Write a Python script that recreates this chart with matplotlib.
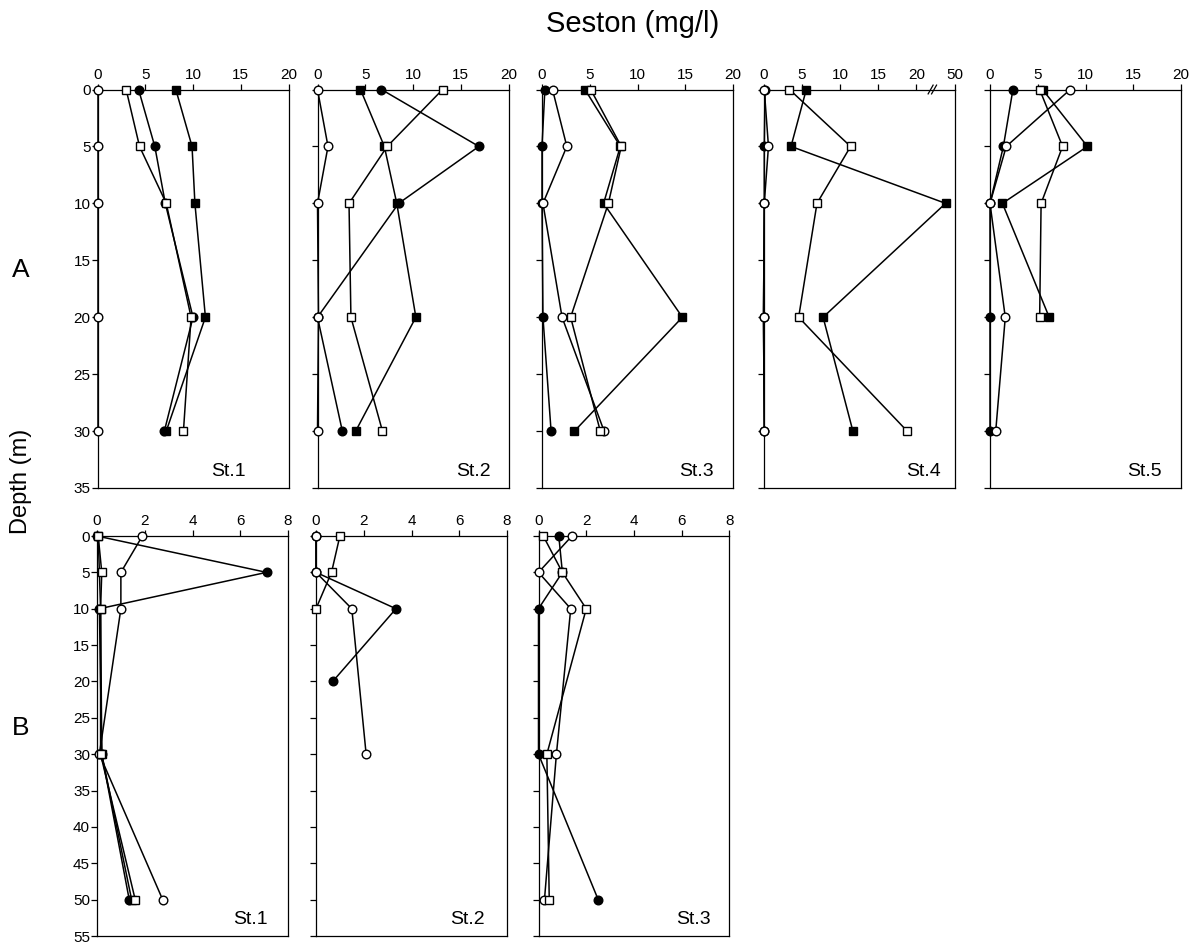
import numpy as np
import matplotlib
matplotlib.use("Agg")
import matplotlib.pyplot as plt

plt.rcParams["font.family"] = ["Liberation Sans", "DejaVu Sans"]

W, H = 1197, 944

DEPTH_A = [0, 5, 10, 20, 30]
DEPTH_B = [0, 5, 10, 20, 30, 50]

# Survey A, seston (mg/l) per station: filled circle, open circle,
# filled square, open square
A1_FC = [4.3, 6.0, 7.1, 10.0, 7.0]
A1_OC = [0.0, 0.0, 0.0, 0.0, 0.0]
A1_FS = [8.2, 9.9, 10.2, 11.3, 7.2]
A1_OS = [3.0, 4.4, 7.2, 9.8, 9.0]

A2_FC = [6.7, 16.9, 8.5, 0.0, 2.6]
A2_OC = [0.0, 1.1, 0.0, 0.1, 0.0]
A2_FS = [4.5, 7.0, 8.3, 10.3, 4.0]
A2_OS = [13.1, 7.3, 3.3, 3.5, 6.8]

A3_FC = [0.3, 0.0, 0.0, 0.1, 0.95]
A3_OC = [1.1, 2.6, 0.1, 2.1, 6.5]
A3_FS = [4.5, 8.2, 6.45, 14.7, 3.4]
A3_OS = [5.1, 8.3, 6.95, 3.0, 6.1]

A4_FC = [0.2, 0.1, 0.1, 0.0, 0.1]
A4_OC = [0.1, 0.65, 0.1, 0.0, 0.1]
A4_FS = [5.6, 3.6, 43.0, 7.8, 11.7]
A4_OS = [3.4, 11.4, 7.0, 4.6, 18.8]

A5_FC = [2.4, 1.4, 0.0, 0.0, 0.0]
A5_OC = [8.4, 1.7, 0.0, 1.6, 0.6]
A5_FS = [5.5, 10.2, 1.3, 6.2, None]
A5_OS = [5.2, 7.6, 5.35, 5.2, None]

# Survey B
B1_FC = [0.0, 7.1, 0.1, None, 0.2, 1.35]
B1_OC = [1.9, 1.0, 1.0, None, 0.1, 2.75]
B1_FS = [0.05, None, 0.15, None, 0.2, 1.45]
B1_OS = [0.05, 0.2, 0.15, None, 0.15, 1.6]

B2_FC = [0.0, 0.0, 3.35, 0.7, None, None]
B2_OC = [0.0, 0.0, 1.5, None, 2.1, None]
B2_FS = [None, None, None, None, None, None]
B2_OS = [1.0, 0.65, 0.0, None, None, None]

B3_FC = [0.85, 1.0, 0.0, None, 0.0, 2.5]
B3_OC = [1.4, 0.0, 1.35, None, 0.75, 0.25]
B3_FS = [None, None, None, None, None, None]
B3_OS = [0.2, 1.0, 2.0, None, 0.35, 0.45]

STATIONS = ["St.1", "St.2", "St.3", "St.4", "St.5"]
XTICKS_A = [0, 5, 10, 15, 20]
XTICKS_A4 = [0, 5, 10, 15, 20, 50]
XTICKS_B = [0, 2, 4, 6, 8]

STYLES = [("o", "black", 6.2), ("o", "white", 6.2),
          ("s", "black", 5.6), ("s", "white", 5.6)]


def px_axes(fig, left, top, width, height):
    return fig.add_axes([left / W, 1 - (top + height) / H, width / W, height / H])


def broken_fwd(x):
    x = np.asarray(x, dtype=float)
    return np.where(x <= 20, x, 20 + (x - 20) / 6.0)


def broken_inv(u):
    u = np.asarray(u, dtype=float)
    return np.where(u <= 20, u, 20 + (u - 20) * 6.0)


def draw_panel(ax, depth, series, xmax, xticks, ymax, label, label_x,
               show_ylabels, broken=False):
    for vals, (mk, face, ms) in zip(series, STYLES):
        d = np.array(depth, dtype=float)
        v = np.array([np.nan if s is None else s for s in vals], dtype=float)
        keep = ~np.isnan(v)
        if not keep.any():
            continue
        ax.plot(v[keep], d[keep], color="black", lw=1.1, marker=mk,
                markersize=ms, markerfacecolor=face, markeredgecolor="black",
                markeredgewidth=1.0, clip_on=False, zorder=3)

    if broken:
        ax.set_xscale("function", functions=(broken_fwd, broken_inv))
    ax.set_xlim(0, xmax)
    ax.set_ylim(ymax, 0)
    ax.set_xticks(xticks)
    ax.set_xticklabels([str(t) for t in xticks])
    ax.set_yticks(np.arange(0, ymax + 1, 5))
    if not show_ylabels:
        ax.set_yticklabels([])

    ax.xaxis.tick_top()
    ax.tick_params(axis="x", direction="out", length=4, width=0.9, pad=1.5,
                   labelsize=11)
    ax.tick_params(axis="y", direction="out", length=4, width=0.9, pad=1.0,
                   labelsize=11)
    for sp in ax.spines.values():
        sp.set_linewidth(0.9)

    ax.text(label_x, 0.02, label, transform=ax.transAxes, ha="right",
            va="bottom", fontsize=14)

    if broken:
        xb = broken_fwd(32.6) / broken_fwd(50)
        for off in (-0.009, 0.009):
            ax.plot([xb + off - 0.013, xb + off + 0.013], [0.989, 1.011],
                    transform=ax.transAxes, color="black", lw=0.9,
                    clip_on=False, zorder=4)


fig = plt.figure(figsize=(W / 100, H / 100), dpi=100)

rows_a = [
    (A1_FC, A1_OC, A1_FS, A1_OS),
    (A2_FC, A2_OC, A2_FS, A2_OS),
    (A3_FC, A3_OC, A3_FS, A3_OS),
    (A4_FC, A4_OC, A4_FS, A4_OS),
    (A5_FC, A5_OC, A5_FS, A5_OS),
]
lefts_a = [97.5, 317.5, 542, 763.5, 990]
label_x_a = [0.775, 0.905, 0.9, 0.93, 0.9]
for i, series in enumerate(rows_a):
    ax = px_axes(fig, lefts_a[i], 89.5, 191, 398.5)
    if i == 3:
        draw_panel(ax, DEPTH_A, series, 50, XTICKS_A4, 35, STATIONS[i],
                   label_x_a[i], i == 0, broken=True)
    else:
        draw_panel(ax, DEPTH_A, series, 20, XTICKS_A, 35, STATIONS[i],
                   label_x_a[i], i == 0)

rows_b = [
    (B1_FC, B1_OC, B1_FS, B1_OS),
    (B2_FC, B2_OC, B2_FS, B2_OS),
    (B3_FC, B3_OC, B3_FS, B3_OS),
]
lefts_b = [97, 316, 538.5]
label_x_b = [0.895, 0.885, 0.9]
for i, series in enumerate(rows_b):
    ax = px_axes(fig, lefts_b[i], 536, 191, 400)
    draw_panel(ax, DEPTH_B, series, 8, XTICKS_B, 55, STATIONS[i],
               label_x_b[i], i == 0)

fig.text(633 / W, 1 - 24 / H, "Seston (mg/l)", ha="center", va="center",
         fontsize=21)
fig.text(21 / W, 1 - 481 / H, "Depth (m)", ha="center", va="center",
         rotation=90, fontsize=17)
fig.text(21 / W, 1 - 270 / H, "A", ha="center", va="center", fontsize=19)
fig.text(21 / W, 1 - 728 / H, "B", ha="center", va="center", fontsize=19)

fig.savefig("out.png", dpi=100)
